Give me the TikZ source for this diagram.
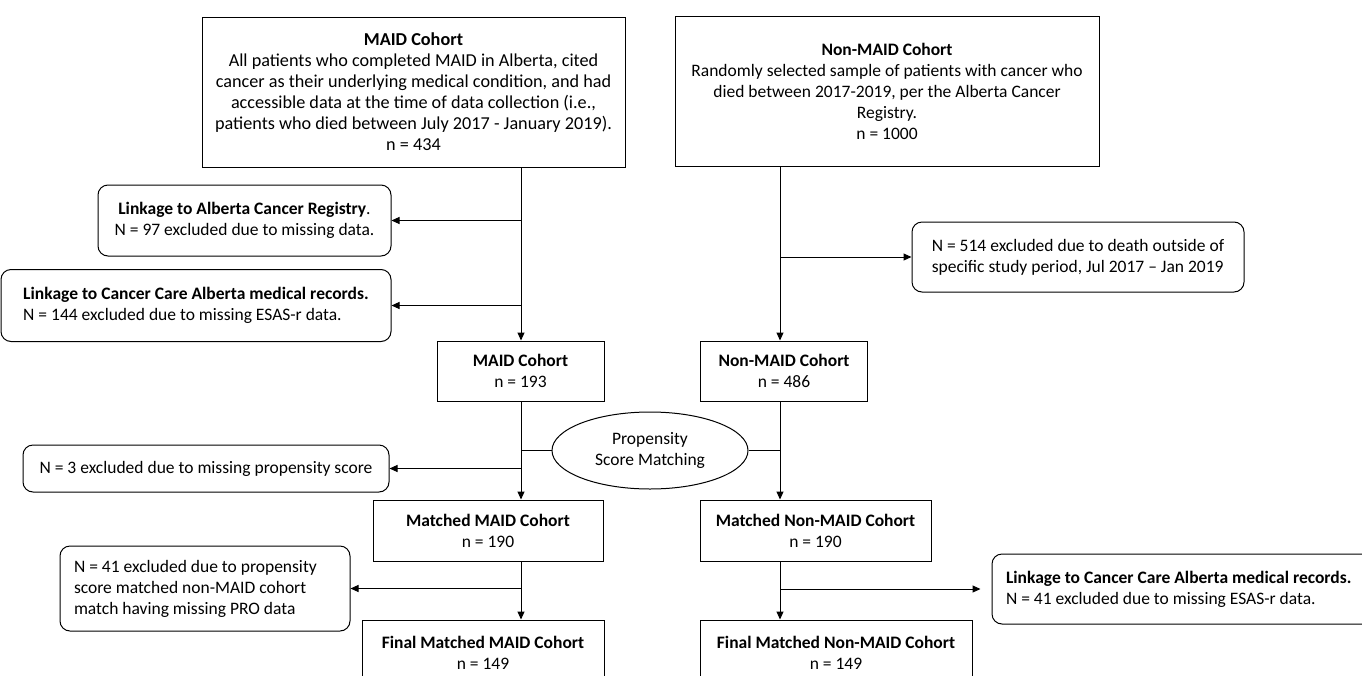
\documentclass[tikz,border=0pt]{standalone}
\usepackage{fontspec}
\setmainfont{Carlito}
\usetikzlibrary{arrows.meta,shapes.geometric}
\begin{document}
\begin{tikzpicture}[x=1pt,y=-1pt,
  every node/.style={font=\fontsize{17.5}{21}\selectfont, text=black},
  sq/.style={draw, line width=1pt, inner sep=0pt, align=center},
  rnd/.style={draw, line width=1pt, rounded corners=10pt, inner sep=0pt},
  conn/.style={line width=1pt},
  arr/.style={conn, -{Triangle[length=8pt,width=7pt]}}]
\useasboundingbox (0,0) rectangle (1362,675);
\coordinate (L) at (521,0);
\coordinate (R) at (780,0);
% top boxes
\node[sq, minimum width=423pt, minimum height=150pt, font=\fontsize{18.2}{21}\selectfont] (top1) at (413.5,92)
  {\textbf{MAID Cohort}\\All patients who completed MAID in Alberta, cited\\cancer as their underlying medical condition, and had\\accessible data at the time of data collection (i.e.,\\patients who died between July 2017 - January 2019).\\n = 434};
\node[sq, minimum width=424pt, minimum height=150pt] (top2) at (887,91)
  {\textbf{Non-MAID Cohort}\\Randomly selected sample of patients with cancer who\\died between 2017-2019, per the Alberta Cancer\\Registry.\\n = 1000};
% exclusion boxes
\node[rnd, align=center, minimum width=293pt, minimum height=71pt] (ex1) at (244.5,220.5)
  {\textbf{Linkage to Alberta Cancer Registry}.\\N = 97 excluded due to missing data.};
\node[rnd, align=flush left, minimum width=390pt, minimum height=72pt] (ex2) at (196,305.5)
  {\textbf{Linkage to Cancer Care Alberta medical records.}\\N = 144 excluded due to missing ESAS-r data.};
\node[rnd, align=flush left, minimum width=332pt, minimum height=70pt] (ex3) at (1078,257)
  {N = 514 excluded due to death outside of\\specific study period, Jul 2017 -- Jan 2019};
% cohort boxes
\node[sq, minimum width=167pt, minimum height=60pt] (mc) at (520.5,371)
  {\textbf{MAID Cohort}\\n = 193};
\node[sq, minimum width=167pt, minimum height=60pt] (nmc) at (784,371)
  {\textbf{Non-MAID Cohort}\\n = 486};
\node[draw, line width=1pt, ellipse, inner sep=0pt, align=center, minimum width=196pt, minimum height=77pt] (psm) at (650,450.5)
  {Propensity\\Score Matching};
\node[rnd, align=center, minimum width=366pt, minimum height=47pt] (ex6) at (206,468.5)
  {N = 3 excluded due to missing propensity score};
\node[sq, minimum width=230pt, minimum height=61pt] (mm) at (488,530.5)
  {\textbf{Matched MAID Cohort}\\n = 190};
\node[sq, minimum width=231pt, minimum height=61pt] (mnm) at (815.5,530.5)
  {\textbf{Matched Non-MAID Cohort}\\n = 190};
\node[rnd, align=flush left, text width=262pt, minimum width=290pt, minimum height=85pt] (ex4) at (205,588.5)
  {N = 41 excluded due to propensity\\score matched non-MAID cohort\\match having missing PRO data};
\node[rnd, align=flush left, text width=355pt, minimum width=383pt, minimum height=70pt] (ex5) at (1183.5,589)
  {\textbf{Linkage to Cancer Care Alberta medical records.}\\N = 41 excluded due to missing ESAS-r data.};
\node[sq, minimum width=242pt, minimum height=65pt] (fm) at (483,652.5)
  {\textbf{Final Matched MAID Cohort}\\n = 149};
\node[sq, minimum width=272pt, minimum height=65pt] (fnm) at (836,652.5)
  {\textbf{Final Matched Non-MAID Cohort}\\n = 149};
% connectors
\draw[arr] (top1.south -| L) -- (mc.north -| L);
\draw[arr] (ex1.east -| L) -- (ex1.east);
\draw[arr] (ex2.east -| L) -- (ex2.east);
\draw[arr] (top2.south -| R) -- (nmc.north -| R);
\draw[arr] (ex3.west -| R) -- (ex3.west);
\draw[arr] (mc.south -| L) -- (mm.north -| L);
\draw[arr] (nmc.south -| R) -- (mnm.north -| R);
\draw[conn] (psm.west -| L) -- (psm.west);
\draw[conn] (psm.east) -- (psm.east -| R);
\draw[arr] (ex6.east -| L) -- (ex6.east);
\draw[arr] (mm.south -| L) -- (fm.north -| L);
\draw[arr] (ex4.east -| L) -- (ex4.east);
\draw[arr] (mnm.south -| R) -- (fnm.north -| R);
\draw[arr, shorten >=11pt] (ex5.west -| R) -- (ex5.west);
\end{tikzpicture}
\end{document}
